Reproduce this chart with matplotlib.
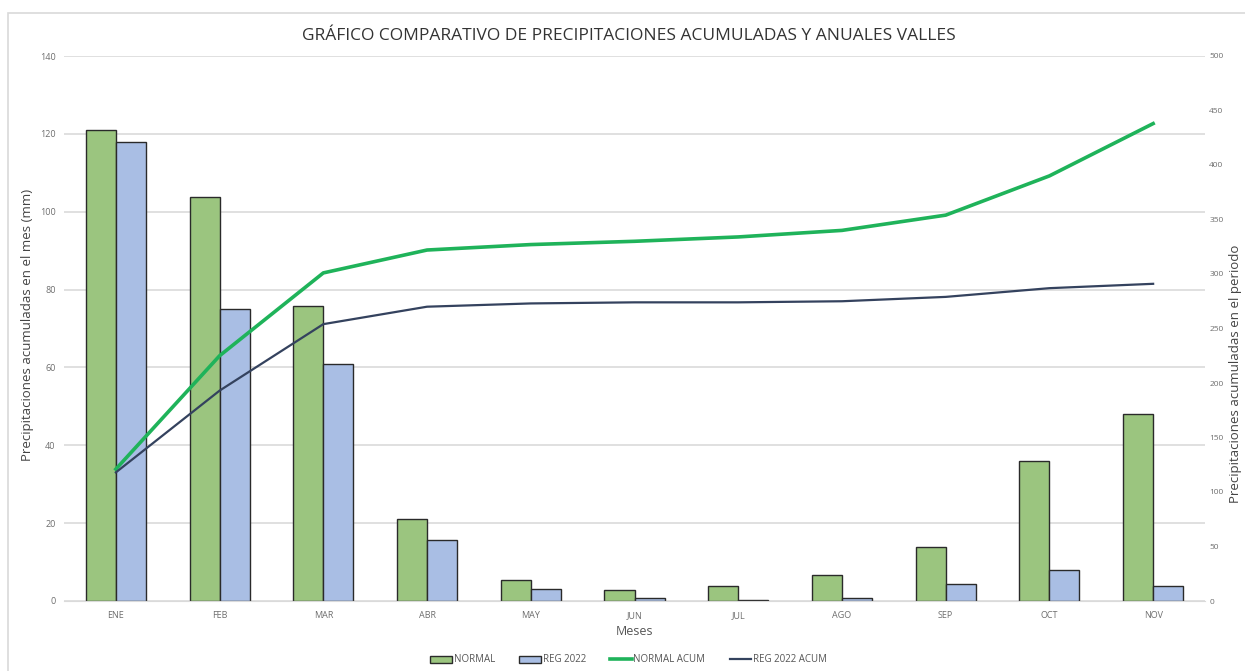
"""Precipitaciones mensuales y acumuladas - Valles."""

import matplotlib

matplotlib.use("Agg")
import matplotlib.pyplot as plt
import numpy as np
from matplotlib.patches import Rectangle

MESES = ["ENE", "FEB", "MAR", "ABR", "MAY", "JUN", "JUL", "AGO", "SEP", "OCT", "NOV"]
NORMAL = [121, 103.7, 75.9, 21.1, 5.4, 2.8, 3.9, 6.7, 13.9, 36, 48.1]
REG_2022 = [118, 74.9, 61, 15.7, 3.1, 0.8, 0.3, 0.8, 4.4, 8, 3.9]
NORMAL_ACUM = [121, 225, 301, 322, 327, 330, 334, 340, 354, 390, 438]
REG_2022_ACUM = [118, 193, 254, 270, 273, 274, 274, 275, 279, 287, 291]

VERDE = "#9bc57f"
AZUL = "#a9bee4"
VERDE_LINEA = "#1fb35a"
AZUL_LINEA = "#34425e"

plt.rcParams["font.family"] = ["Open Sans", "DejaVu Sans"]

fig = plt.figure(figsize=(12.45, 6.71), dpi=100)
fig.patches.append(
    Rectangle((8 / 1245, -0.1), 1.2, 1 - 13 / 671 + 0.1, transform=fig.transFigure,
              fill=False, edgecolor="#d9d9d9", linewidth=1.2)
)
ax = fig.add_axes([64 / 1245, 1 - 601 / 671, 1141 / 1245, 545 / 671])
ax2 = ax.twinx()

x = np.arange(len(MESES))
ancho = 0.29
ax.bar(x - ancho / 2, NORMAL, ancho, color=VERDE, edgecolor="#2a2a2a", linewidth=1.0,
       label="NORMAL")
ax.bar(x + ancho / 2, REG_2022, ancho, color=AZUL, edgecolor="#2a2a2a", linewidth=1.0,
       label="REG 2022")
ax2.plot(x, NORMAL_ACUM, color=VERDE_LINEA, linewidth=2.6, label="NORMAL ACUM")
ax2.plot(x, REG_2022_ACUM, color=AZUL_LINEA, linewidth=1.6, label="REG 2022 ACUM")

ax.set_xlim(-0.5, len(MESES) - 0.5)
ax.set_ylim(0, 140)
ax.set_yticks(np.arange(0, 141, 20))
ax2.set_ylim(0, 500)
ax2.set_yticks(np.arange(0, 501, 50))
ax.set_xticks(x)
ax.set_xticklabels(MESES)

ax.grid(axis="y", color="#dadada", linewidth=1.2)
ax.set_axisbelow(True)
for a in (ax, ax2):
    for s in a.spines.values():
        s.set_visible(False)
    a.tick_params(length=0, labelsize=6.5, labelcolor="#6e6e6e")
ax.spines["bottom"].set_visible(True)
ax.spines["bottom"].set_color("#dadada")
ax.tick_params(axis="y", pad=6)
ax.tick_params(axis="x", pad=7)
ax2.tick_params(axis="y", pad=3, labelsize=6)

ax.set_zorder(ax2.get_zorder() - 1)
ax.patch.set_visible(True)
ax2.patch.set_visible(False)

fig.suptitle("GRÁFICO COMPARATIVO DE PRECIPITACIONES ACUMULADAS Y ANUALES VALLES",
             x=0.505, y=0.958, fontsize=12.5, color="#333333")
ax.set_xlabel("Meses", fontsize=9, color="#555555", labelpad=4)
fig.text(28 / 1245, 1 - 325 / 671, "Precipitaciones acumuladas en el mes (mm)",
         rotation=90, ha="center", va="center", fontsize=9.5, color="#444444")
fig.text(1236 / 1245, 1 - 374 / 671, "Precipitaciones acumuladas en el periodo",
         rotation=90, ha="center", va="center", fontsize=9.5, color="#444444")

h1, l1 = ax.get_legend_handles_labels()
h2, l2 = ax2.get_legend_handles_labels()
fig.legend(h1 + h2, l1 + l2, loc="center", bbox_to_anchor=(0.505, 1 - 660 / 671), ncol=4,
           frameon=False, fontsize=7, labelcolor="#555555", handlelength=2.2,
           handletextpad=0.2, columnspacing=2.5)

fig.savefig("out.png", dpi=100)
